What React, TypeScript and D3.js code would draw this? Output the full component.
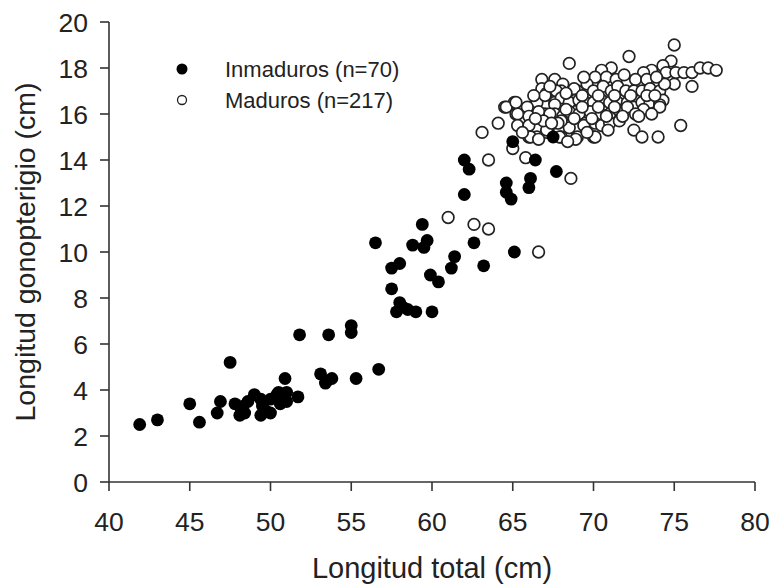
import React from "react";
import * as d3 from "d3";

const xTicks = [40, 45, 50, 55, 60, 65, 70, 75, 80];
const yTicks = [0, 2, 4, 6, 8, 10, 12, 14, 16, 18, 20];

const legendLabels = ["Inmaduros (n=70)", "Maduros (n=217)"];
const xTitle = "Longitud total (cm)";
const yTitle = "Longitud gonopterigio (cm)";

// Inmaduros: [longitud total, longitud gonopterigio]
const inmaduros: [number, number][] = [
  [41.9, 2.5], [43.0, 2.7], [45.0, 3.4], [45.6, 2.6], [47.5, 5.2], [46.7, 3.0], [46.9, 3.5],
  [47.8, 3.4], [48.1, 2.9], [48.4, 3.0], [48.6, 3.5], [49.0, 3.8], [49.4, 3.6], [49.4, 2.9],
  [49.5, 3.3], [50.0, 3.0], [50.0, 3.6], [50.4, 3.8], [50.6, 3.4], [50.5, 3.9], [51.0, 3.5],
  [51.0, 3.9], [50.9, 4.5], [51.7, 3.7], [51.8, 6.4], [48.2, 3.1], [49.7, 3.1], [50.8, 3.7],
  [48.3, 3.3],
  [53.1, 4.7], [53.4, 4.3], [53.8, 4.5], [53.6, 6.4], [55.0, 6.8], [55.0, 6.5], [55.3, 4.5],
  [56.7, 4.9], [53.5, 4.4],
  [56.5, 10.4], [57.5, 9.3], [58.0, 9.5], [57.5, 8.4], [58.0, 7.8], [57.8, 7.4], [58.5, 7.5],
  [59.0, 7.4], [60.0, 7.4], [58.8, 10.3], [59.4, 11.2], [59.7, 10.5], [59.5, 10.2], [59.9, 9.0],
  [60.4, 8.7], [61.4, 9.8], [61.2, 9.3], [62.0, 14.0], [62.3, 13.6], [62.0, 12.5], [62.6, 10.4],
  [63.2, 9.4], [58.2, 7.6],
  [64.6, 13.0], [64.6, 12.6], [64.9, 12.3], [66.1, 13.2], [66.0, 12.8], [66.4, 14.0], [67.7, 13.5],
  [65.0, 14.8], [67.5, 15.0], [65.1, 10.0],
];

// Maduros
const maduros: [number, number][] = [
  [75.0, 19.0], [72.2, 18.5], [68.5, 18.2], [74.8, 18.3], [74.3, 18.1], [71.1, 18.0], [70.5, 17.9],
  [73.6, 17.9], [73.1, 17.8], [74.5, 17.8], [75.1, 17.8], [75.6, 17.8], [76.1, 17.8], [76.6, 18.0],
  [77.1, 18.0], [77.6, 17.9],
  [66.8, 17.5], [67.6, 17.5], [68.1, 17.3], [70.1, 17.6], [70.8, 17.6], [71.4, 17.5], [72.1, 17.4],
  [72.6, 17.5], [73.3, 17.5], [75.0, 17.3], [76.1, 17.2],
  [66.8, 17.1], [67.1, 16.9], [68.0, 17.0], [69.0, 17.0], [69.6, 17.3], [70.0, 17.0], [70.6, 17.2],
  [71.1, 17.0], [71.5, 17.2], [72.0, 17.0], [72.5, 17.0], [73.0, 17.0], [73.5, 17.1], [74.1, 17.0],
  [67.7, 17.0], [68.8, 17.1], [68.9, 16.6],
  [64.5, 16.3], [65.1, 16.5], [66.1, 16.3], [66.5, 16.5], [67.0, 16.8], [67.6, 16.5], [68.0, 16.7],
  [68.5, 16.5], [69.1, 16.6], [69.5, 16.5], [70.0, 16.5], [70.5, 16.6], [71.0, 16.5], [71.5, 16.5],
  [72.1, 16.5], [72.5, 16.3], [73.0, 16.5], [73.5, 16.5], [74.1, 16.5], [74.3, 16.6], [65.9, 16.3],
  [67.6, 16.4], [74.1, 16.4],
  [65.2, 16.0], [66.0, 15.9], [67.0, 16.0], [67.6, 16.0], [68.1, 15.9], [68.5, 16.1], [69.1, 16.0],
  [70.4, 16.0], [71.0, 16.0], [71.5, 16.2], [72.1, 16.3], [73.1, 16.2], [74.1, 16.3], [65.3, 16.0],
  [66.6, 16.1], [67.3, 16.0], [69.8, 16.1], [72.6, 16.0], [73.6, 16.0],
  [64.1, 15.6], [65.3, 15.5], [66.0, 15.4], [66.5, 15.4], [67.1, 15.2], [67.9, 15.3], [68.5, 15.4],
  [69.5, 15.6], [70.1, 15.6], [70.5, 15.5], [68.0, 15.7], [69.4, 15.5], [66.0, 15.5], [67.1, 15.3],
  [71.0, 15.6], [71.6, 15.7], [72.5, 15.3], [75.4, 15.5],
  [66.0, 15.0], [66.5, 15.0], [68.0, 15.0], [69.0, 15.0], [70.0, 15.0], [68.9, 14.9], [73.0, 15.0],
  [74.0, 15.0], [66.1, 15.0], [67.9, 15.0], [70.1, 15.0],
  [63.1, 15.2], [63.5, 14.0], [65.0, 14.5], [65.8, 14.1], [68.6, 13.2], [61.0, 11.5], [62.6, 11.2],
  [63.5, 11.0], [66.6, 10.0], [66.6, 14.9], [64.6, 16.3], [65.2, 16.5],
  [66.3, 16.8], [67.3, 17.2], [68.3, 16.9], [69.3, 16.8], [70.3, 16.8], [71.3, 16.8], [72.3, 16.8],
  [73.3, 16.8], [66.9, 15.7], [67.8, 15.6], [68.8, 15.8], [69.9, 15.8], [70.8, 15.9], [71.8, 15.9],
  [72.8, 15.9], [66.4, 15.8], [69.3, 16.3], [70.3, 16.3], [71.3, 16.3], [68.3, 16.2], [73.8, 16.8],
  [74.4, 17.3], [73.9, 17.6], [71.9, 17.7], [69.4, 17.6], [67.4, 15.6], [65.6, 15.2], [69.6, 15.2],
  [70.9, 15.3], [68.4, 14.8],
];

const W = 774;
const H = 585;
const x = d3.scaleLinear().domain([40, 80]).range([109, 755]);
const y = d3.scaleLinear().domain([0, 20]).range([482, 22]);

const FONT = "Liberation Sans, Arial, sans-serif";
const AXIS = "#333";

export default function App() {
  return (
    <svg
      width={W}
      height={H}
      style={{ position: "absolute", left: 0, top: 0, background: "#fff" }}
      fontFamily={FONT}
    >
      <rect width={W} height={H} fill="#fff" />
      {/* axes */}
      <line x1={x(40)} x2={x(40)} y1={y(20)} y2={y(0)} stroke={AXIS} strokeWidth={1.6} />
      <line x1={x(40)} x2={x(80)} y1={y(0)} y2={y(0)} stroke={AXIS} strokeWidth={1.6} />
      {yTicks.map((t) => (
        <g key={"y" + t}>
          <line x1={x(40) - 9} x2={x(40)} y1={y(t)} y2={y(t)} stroke={AXIS} strokeWidth={1.6} />
          <text x={88} y={y(t)} dy="0.36em" textAnchor="end" fontSize={26.5} fill="#222">
            {t}
          </text>
        </g>
      ))}
      {xTicks.map((t) => (
        <g key={"x" + t}>
          <line x1={x(t)} x2={x(t)} y1={y(0)} y2={y(0) + 9} stroke={AXIS} strokeWidth={1.6} />
          <text x={x(t)} y={531} textAnchor="middle" fontSize={26.5} fill="#222">
            {t}
          </text>
        </g>
      ))}
      <text x={432} y={578} textAnchor="middle" fontSize={29} fill="#222">
        {xTitle}
      </text>
      <text
        transform={`translate(35, 252) rotate(-90)`}
        textAnchor="middle"
        fontSize={28.5}
        fill="#222"
      >
        {yTitle}
      </text>

      {/* data */}
      {maduros.map((d, i) => (
        <circle key={"m" + i} cx={x(d[0])} cy={y(d[1])} r={5.8} fill="#fff" stroke="#222" strokeWidth={1.7} />
      ))}
      {inmaduros.map((d, i) => (
        <circle key={"i" + i} cx={x(d[0])} cy={y(d[1])} r={6.4} fill="#000" />
      ))}

      {/* legend */}
      <circle cx={182} cy={69} r={5.5} fill="#000" />
      <circle cx={182} cy={100} r={4.5} fill="#fff" stroke="#222" strokeWidth={1.3} />
      <text x={225} y={69} dy="0.36em" fontSize={22} fill="#222">
        {legendLabels[0]}
      </text>
      <text x={225} y={100} dy="0.36em" fontSize={22} fill="#222">
        {legendLabels[1]}
      </text>
    </svg>
  );
}
